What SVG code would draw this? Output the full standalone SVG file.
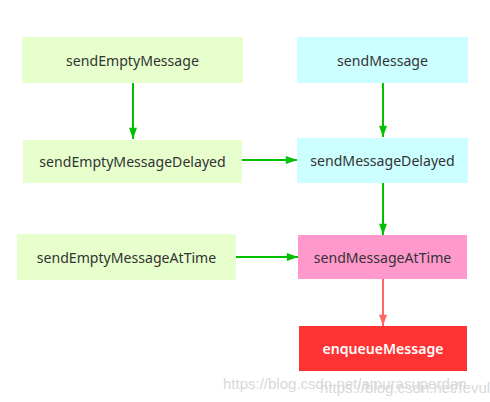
<svg xmlns="http://www.w3.org/2000/svg" width="490" height="402" viewBox="0 0 490 402">
<style>
.t{font-family:"Noto Sans","Open Sans","Liberation Sans",sans-serif;font-size:14.1px;fill:#333;text-anchor:middle;dominant-baseline:central}
.g{fill:#e6ffcc}
.c{fill:#ccffff}
.e{stroke:#00c000;stroke-width:2;fill:none}
.r{stroke:#ff6666;stroke-width:2;fill:none}
.wm{font-family:"Liberation Sans",Arial,sans-serif;font-size:15px;fill:#d8d8d8}
</style>
<defs>
<marker id="ag" viewBox="0 0 10 10" refX="10" refY="5" markerWidth="7.5" markerHeight="7.5" markerUnits="userSpaceOnUse" orient="auto" style="overflow:visible">
<path d="M0,0 L10,5 L0,10 Z" fill="#00c000" transform="scale(1.5,1.05) translate(-3.3,-0.25)"/>
</marker>
<marker id="ar" viewBox="0 0 10 10" refX="10" refY="5" markerWidth="7.5" markerHeight="7.5" markerUnits="userSpaceOnUse" orient="auto" style="overflow:visible">
<path d="M0,0 L10,5 L0,10 Z" fill="#ff6666" transform="scale(1.5,1.05) translate(-3.3,-0.25)"/>
</marker>
</defs>
<rect width="490" height="402" fill="#fff"/>
<g id="connectors">
<line class="e" x1="133" y1="83" x2="133" y2="139" marker-end="url(#ag)"/>
<line class="e" x1="383" y1="83" x2="383" y2="137" marker-end="url(#ag)"/>
<line class="e" x1="242" y1="160" x2="297" y2="160" marker-end="url(#ag)"/>
<line class="e" x1="383" y1="183" x2="383" y2="235" marker-end="url(#ag)"/>
<line class="e" x1="236" y1="257" x2="298" y2="257" marker-end="url(#ag)"/>
<line class="r" x1="383" y1="279" x2="383" y2="326" marker-end="url(#ar)"/>
</g>
<g id="sendEmptyMessage"><rect class="g" x="22" y="37" width="221" height="46"/><text class="t" x="132.5" y="60">sendEmptyMessage</text></g>
<g id="sendMessage"><rect class="c" x="297" y="37" width="171" height="46"/><text class="t" x="382.5" y="60">sendMessage</text></g>
<g id="sendEmptyMessageDelayed"><rect class="g" x="23" y="140" width="219" height="43"/><text class="t" x="132.5" y="161">sendEmptyMessageDelayed</text></g>
<g id="sendMessageDelayed"><rect class="c" x="297" y="138" width="171" height="45"/><text class="t" x="382.5" y="160.5">sendMessageDelayed</text></g>
<g id="sendEmptyMessageAtTime"><rect class="g" x="17" y="234" width="219" height="46"/><text class="t" x="126.5" y="257">sendEmptyMessageAtTime</text></g>
<g id="sendMessageAtTime"><rect x="298" y="235" width="169" height="44" fill="#ff99cc"/><text class="t" x="382.5" y="257">sendMessageAtTime</text></g>
<g id="enqueueMessage"><rect x="299" y="326" width="168" height="45" fill="#ff3333"/><text class="t" x="383" y="348.5" style="fill:#fff;font-weight:600">enqueueMessage</text></g>
<text class="wm" x="223" y="389">https://blog.csdn.net/amurasuperdan</text>
<text class="wm" x="320" y="393">https://blog.csdn.net/fevuldoy</text>
</svg>
